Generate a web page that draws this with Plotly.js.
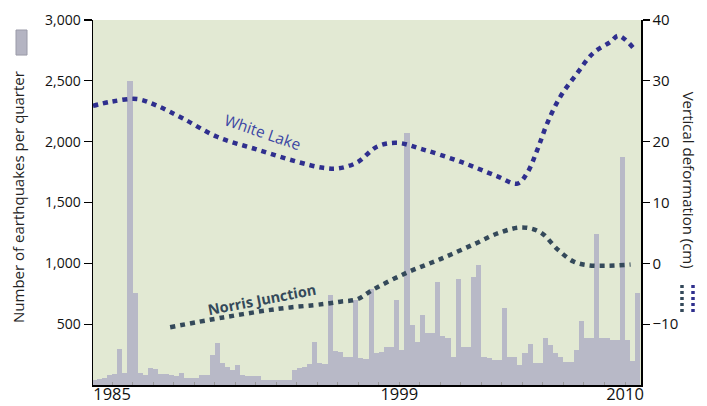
<!DOCTYPE html>
<html>
<head>
<meta charset="utf-8">
<script src="https://cdn.plot.ly/plotly-3.0.1.min.js"></script>
<style>html,body{margin:0;padding:0;background:#fff;}#chart{width:707px;height:406px;}</style>
</head>
<body>
<div id="chart"></div>
<script>
// Quarterly earthquake counts, starting with the first quarter of 1984
const firstYear = 1984;
const quarterlyCounts = [
  40, 50, 60, 80,        // 1984
  90, 300, 100, 2500,    // 1985
  760, 100, 80, 140,     // 1986
  130, 90, 90, 80,       // 1987
  70, 100, 60, 55,       // 1988
  55, 80, 80, 245,       // 1989
  345, 180, 150, 120,    // 1990
  165, 80, 75, 70,       // 1991
  70, 45, 40, 40,        // 1992
  40, 40, 45, 120,       // 1993
  140, 150, 170, 350,    // 1994
  180, 170, 740, 280,    // 1995
  270, 230, 230, 700,    // 1996
  220, 210, 790, 260,    // 1997
  270, 310, 310, 700,    // 1998
  290, 2070, 490, 350,   // 1999
  575, 430, 430, 845,    // 2000
  400, 390, 230, 875,    // 2001
  310, 310, 885, 985,    // 2002
  230, 220, 205, 205,    // 2003
  630, 230, 230, 165,    // 2004
  260, 340, 180, 180,    // 2005
  385, 330, 260, 230,    // 2006
  190, 190, 285, 530,    // 2007
  390, 390, 1245, 390,   // 2008
  385, 370, 370, 1870,   // 2009
  370, 200, 760          // 2010
];
const quarterMid = quarterlyCounts.map((_, i) => firstYear + Math.floor(i / 4) + ((i % 4) + 0.5) / 4);

// Vertical deformation (cm)
const whiteLakeYears = [1984.07, 1985.0, 1986.22, 1987.2, 1988.46, 1990.12, 1992.07, 1994.02, 1995.29, 1996.02, 1996.95, 1997.93, 1998.9, 2000.17, 2001.98, 2003.78, 2004.76, 2005.24, 2005.73, 2006.22, 2006.85, 2007.68, 2008.46, 2009.29, 2009.68, 2010.41];
const whiteLakeCm    = [25.9, 26.6, 27.0, 25.9, 23.8, 20.8, 18.7, 16.7, 15.7, 15.6, 16.6, 19.2, 19.8, 18.7, 16.7, 14.3, 13.1, 14.9, 18.7, 23.1, 27.4, 31.3, 34.6, 36.4, 37.4, 35.4];

const norrisYears = [1987.83, 1990.41, 1993.05, 1995.29, 1996.12, 1996.95, 1997.73, 1999.39, 2001.0, 2002.61, 2003.93, 2005.0, 2005.88, 2006.71, 2007.49, 2008.17, 2009.15, 2010.27];
const norrisCm    = [-10.5, -8.9, -7.5, -6.7, -6.3, -5.9, -4.3, -1.5, 0.7, 3.1, 5.1, 5.9, 5.1, 2.3, 0.3, -0.3, -0.4, -0.2];

const xTicks = [1985, 1999, 2010];
const leftTicks = [500, 1000, 1500, 2000, 2500, 3000];
const rightTicks = [-10, 0, 10, 20, 30, 40];

const FONT = 'Open Sans, Noto Sans, sans-serif';
const BLUE = '#2f2f8e';
const SLATE = '#34495a';

const traces = [
  {
    type: 'bar', x: quarterMid, y: quarterlyCounts, width: 0.25,
    marker: {color: '#b8b9c7', line: {width: 0}}, hoverinfo: 'skip'
  },
  {
    type: 'scatter', mode: 'lines', x: whiteLakeYears, y: whiteLakeCm, yaxis: 'y2',
    line: {color: BLUE, width: 4.5, dash: '5px,5px', shape: 'spline', smoothing: 1}
  },
  {
    type: 'scatter', mode: 'lines', x: norrisYears, y: norrisCm, yaxis: 'y2',
    line: {color: SLATE, width: 4.5, dash: '5px,5px', shape: 'spline', smoothing: 1}
  }
];

const layout = {
  width: 707, height: 406,
  margin: {l: 93, r: 66, t: 20, b: 21},
  paper_bgcolor: '#ffffff', plot_bgcolor: '#e2e9d3',
  showlegend: false, bargap: 0,
  font: {family: FONT, color: '#111', size: 14},
  xaxis: {
    range: [1984.07, 2010.78], tickvals: xTicks, ticktext: xTicks.map(String),
    showgrid: false, zeroline: false, showline: true, linecolor: '#000', linewidth: 1.5,
    ticks: '', ticklabelstandoff: -6, tickfont: {size: 16.5, family: FONT, color: '#111'},
    minor: {dtick: 1, tick0: 1985, ticks: 'inside', ticklen: 3, tickcolor: '#999', showgrid: false}
  },
  yaxis: {
    range: [0, 3000], tickvals: leftTicks, tickformat: ',d',
    showgrid: false, zeroline: false, showline: true, linecolor: '#000', linewidth: 1.5,
    ticks: 'outside', ticklen: 8, tickcolor: '#000', tickwidth: 1.2,
    tickfont: {size: 14, family: FONT, color: '#111'}
  },
  yaxis2: {
    overlaying: 'y', side: 'right', range: [-20, 40], tickvals: rightTicks,
    showgrid: false, zeroline: false, showline: true, linecolor: '#000', linewidth: 1.5,
    ticks: 'outside', ticklen: 7, tickcolor: '#000', tickwidth: 1.2,
    tickfont: {size: 15, family: FONT, color: '#111'}
  },
  annotations: [
    {xref: 'paper', yref: 'paper', x: -0.137, y: 0.515, text: 'Number of earthquakes per quarter',
     textangle: -90, showarrow: false, xanchor: 'center', yanchor: 'middle',
     font: {size: 15, family: FONT, color: '#222'}},
    {xref: 'paper', yref: 'paper', x: 1.088, y: 0.562, text: 'Vertical deformation (cm)',
     textangle: 90, showarrow: false, xanchor: 'center', yanchor: 'middle',
     font: {size: 15, family: FONT, color: '#222'}},
    {xref: 'x', yref: 'y2', x: 1992.35, y: 21.6, text: 'White Lake', textangle: 19,
     showarrow: false, font: {size: 15.5, family: FONT, color: '#3b45a3'}},
    {xref: 'x', yref: 'y2', x: 1992.3, y: -6.0, text: '<b>Norris Junction</b>', textangle: -11,
     showarrow: false, font: {size: 14.5, family: FONT, color: SLATE}}
  ],
  shapes: [
    {type: 'rect', xref: 'paper', yref: 'paper', x0: -0.1405, x1: -0.1204, y0: 0.904, y1: 0.9726,
     fillcolor: '#b4b4c2', line: {color: '#9a9aa8', width: 1}},
    {type: 'line', xref: 'paper', yref: 'paper', x0: 1.0748, x1: 1.0748, y0: 0.2, y1: 0.279,
     line: {color: SLATE, width: 3.5, dash: '3px,3px'}},
    {type: 'line', xref: 'paper', yref: 'paper', x0: 1.0949, x1: 1.0949, y0: 0.2, y1: 0.279,
     line: {color: BLUE, width: 3.5, dash: '3px,3px'}}
  ]
};

Plotly.newPlot('chart', traces, layout, {displayModeBar: false, staticPlot: true});
</script>
</body>
</html>
